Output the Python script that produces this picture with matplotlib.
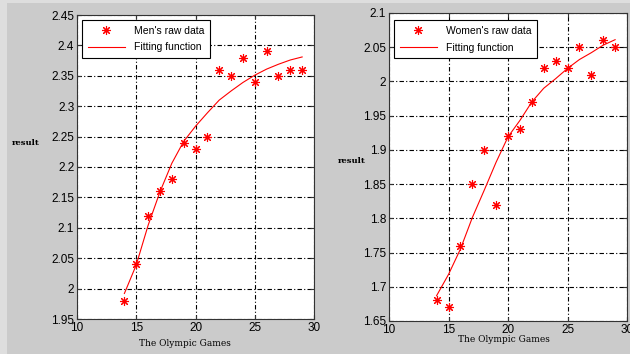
import numpy as np
import matplotlib.pyplot as plt
from matplotlib.patches import Rectangle

# Olympic Games index
games = [14, 15, 16, 17, 18, 19, 20, 21, 22, 23, 24, 25, 26, 27, 28, 29]

# Men's raw data and fitted curve
men_raw = [1.98, 2.04, 2.12, 2.16, 2.18, 2.24, 2.23, 2.25,
           2.36, 2.35, 2.38, 2.34, 2.39, 2.35, 2.36, 2.36]
men_fit = [1.992, 2.039, 2.104, 2.159, 2.206, 2.242, 2.267, 2.289,
           2.310, 2.325, 2.339, 2.351, 2.361, 2.369, 2.376, 2.381]

# Women's raw data and fitted curve
women_raw = [1.68, 1.67, 1.76, 1.85, 1.90, 1.82, 1.92, 1.93,
             1.97, 2.02, 2.03, 2.02, 2.05, 2.01, 2.06, 2.05]
women_fit = [1.687, 1.718, 1.755, 1.801, 1.841, 1.882, 1.919, 1.943,
             1.970, 1.990, 2.004, 2.019, 2.032, 2.042, 2.053, 2.061]

men_yticks = [1.95, 2.0, 2.05, 2.1, 2.15, 2.2, 2.25, 2.3, 2.35, 2.4, 2.45]
men_ylabels = ['1.95', '2', '2.05', '2.1', '2.15', '2.2', '2.25', '2.3', '2.35', '2.4', '2.45']
women_yticks = [1.65, 1.7, 1.75, 1.8, 1.85, 1.9, 1.95, 2.0, 2.05, 2.1]
women_ylabels = ['1.65', '1.7', '1.75', '1.8', '1.85', '1.9', '1.95', '2', '2.05', '2.1']
xticks = [10, 15, 20, 25, 30]

plt.rcParams['font.family'] = 'Liberation Sans'

fig = plt.figure(figsize=(6.3, 3.54), dpi=100)
fig.patch.set_facecolor('#dedede')
fig.patches.append(Rectangle((7 / 630, 0), 1, 351 / 354, transform=fig.transFigure,
                             facecolor='#cbcbcb', edgecolor='none', zorder=-1))

ax1 = fig.add_axes([77 / 630, 35 / 354, 237 / 630, 304 / 354])
ax2 = fig.add_axes([389 / 630, 33 / 354, 238 / 630, 308 / 354])

asterisk = (8, 2, 0)
gridstyle = (0, (4, 2, 1, 2))

panels = [
    (ax1, men_raw, men_fit, "Men's raw data", (1.95, 2.45), men_yticks, men_ylabels,
     (12, 143), (185, 343), (0.021, 0.984)),
    (ax2, women_raw, women_fit, "Women's raw data", (1.65, 2.1), women_yticks, women_ylabels,
     (338, 161), (504, 340), (0.021, 0.977)),
]

for ax, raw, fit, lab, ylim, yt, ytl, ylab_pos, xlab_pos, leg_pos in panels:
    ax.plot(games, raw, linestyle='none', marker=asterisk, color='red',
            markersize=6.5, markeredgewidth=0.8, label=lab)
    ax.plot(games, fit, color='red', linewidth=0.8, label='Fitting function')
    ax.set_xlim(10, 30)
    ax.set_ylim(*ylim)
    ax.set_xticks(xticks)
    ax.set_yticks(yt)
    ax.set_yticklabels(ytl)
    ax.grid(True, color='black', linestyle=gridstyle, linewidth=0.8)
    ax.tick_params(direction='in', length=3, labelsize=8.5, top=True, right=True,
                   color='#333333', pad=2)
    for s in ax.spines.values():
        s.set_color('#333333')
        s.set_linewidth(0.8)
    leg = ax.legend(loc='upper left', bbox_to_anchor=leg_pos, borderaxespad=0,
                    fancybox=False, framealpha=1, edgecolor='black', fontsize=7.5,
                    handlelength=3.6, labelspacing=0.65, borderpad=0.55,
                    handletextpad=0.8)
    leg.get_frame().set_linewidth(0.8)
    fig.text(ylab_pos[0] / 630, 1 - ylab_pos[1] / 354, 'result',
             family='DejaVu Serif', fontsize=6, fontweight='bold', ha='left', va='center')
    fig.text(xlab_pos[0] / 630, 1 - xlab_pos[1] / 354, 'The Olympic Games',
             family='DejaVu Serif', fontsize=6.5, ha='center', va='center')

fig.savefig('out.png', dpi=100, facecolor=fig.get_facecolor())
